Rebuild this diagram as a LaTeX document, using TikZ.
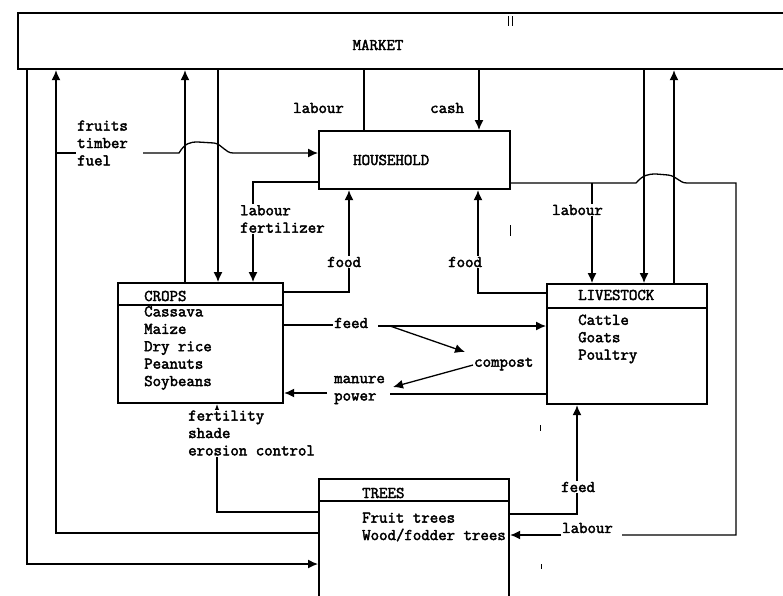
\documentclass[tikz,border=0pt]{standalone}
\usepackage{fontspec}
\newfontfamily\tw{Latin Modern Mono}[FakeBold=2.5]
\usetikzlibrary{arrows.meta}
\begin{document}
\begin{tikzpicture}[x=1pt,y=-1pt,
  box/.style={draw,line width=2.2pt,inner sep=0pt,anchor=north west},
  ln/.style={line width=1.3pt},
  ar/.style={line width=1.3pt,-{Latex[length=10pt,width=9pt]}},
  lbl/.style={font=\tw\fontsize{16.4}{17.4}\selectfont,inner sep=1pt,anchor=west,align=left},
  wl/.style={lbl,fill=white},
  tick/.style={line width=0.8pt}
]
\useasboundingbox (0,0) rectangle (783,595);
\clip (0,0) rectangle (783,595);

% boxes
\node[box,minimum width=780pt,minimum height=56pt] (market) at (17,12) {};
\node[lbl,anchor=center] (marketl) at (378,45) {MARKET};
\node[box,minimum width=191pt,minimum height=58pt] (hh) at (318,130) {};
\node[lbl] (hhl) at (352,160) {HOUSEHOLD};
\node[box,minimum width=165pt,minimum height=120pt] (crops) at (117,282) {};
\draw[line width=2pt] (crops.west |- 0,305) -- (crops.east |- 0,305);
\node[lbl] (cropsl) at (143,296) {CROPS};
\node[lbl] (cropsi) at (143,348) {Cassava\\Maize\\Dry rice\\Peanuts\\Soybeans};
\node[box,minimum width=160pt,minimum height=120pt] (ls) at (546,283) {};
\draw[line width=2pt] (ls.west |- 0,308) -- (ls.east |- 0,308);
\node[lbl] (lsl) at (577,295) {LIVESTOCK};
\node[lbl] (lsi) at (577,339) {Cattle\\Goats\\Poultry};
\node[box,minimum width=190pt,minimum height=140pt] (trees) at (318,478) {};
\draw[line width=2pt] (trees.west |- 0,501) -- (trees.east |- 0,501);
\node[lbl] (treesl) at (361,493) {TREES};
\node[lbl] (treesi) at (361,527) {Fruit trees\\Wood/fodder trees};

% plain labels
\node[lbl] (labm) at (292,108) {labour};
\node[lbl] (cash) at (429,108) {cash};
\node[lbl] (fruits) at (76,143) {fruits\\timber\\fuel};
\node[lbl] (feed) at (333,323) {feed};
\node[lbl] (compost) at (473,364) {compost};
\node[lbl] (manure) at (333,390) {manure\\power};
\node[lbl] (labr) at (561,528) {labour};

% connectors
\draw[ar] (market.south -| 27,0) -- (27,564) -- (trees.west |- 0,564);
\draw[ar] (trees.west |- 0,533) -- (56,533) -- (market.south -| 56,0);
\draw[ln] (56,153) -- (fruits.west |- 0,153);
\draw[ar] (143,153) -- (179,153) .. controls (185,143) and (190,142) .. (198,142) -- (214,143) .. controls (222,144) and (225,153) .. (233,153) -- (hh.west |- 0,153);
\draw[ar] (crops.north -| 185,0) -- (market.south -| 185,0);
\draw[ar] (market.south -| 218,0) -- (crops.north -| 218,0);
\draw[ln] (hh.north -| 364,0) -- (market.south -| 364,0);
\draw[ar] (market.south -| 479,0) -- (hh.north -| 479,0);
\draw[ar] (market.south -| 644,0) -- (ls.north -| 644,0);
\draw[ar] (ls.north -| 674,0) -- (market.south -| 674,0);
\draw[ln] (hh.east |- 0,183) -- (636,183) .. controls (643,175) and (648,174) .. (656,174) -- (668,175) .. controls (677,176) and (679,183) .. (687,183) -- (736,183) -- (736,535) -- (622,535);
\draw[ar] (labr.west |- 0,535) -- (trees.east |- 0,535);
\draw[ar] (592,183) -- (ls.north -| 592,0);
\draw[ar] (hh.west |- 0,182) -- (253,182) -- (crops.north -| 253,0);
\draw[ar] (crops.east |- 0,292) -- (349,292) -- (hh.south -| 349,0);
\draw[ar] (ls.west |- 0,293) -- (478,293) -- (hh.south -| 478,0);
\draw[ar] (trees.west |- 0,512) -- (217,512) -- (crops.south -| 217,0);
\draw[ar] (trees.east |- 0,514) -- (577,514) -- (ls.south -| 577,0);
\draw[ln] (crops.east |- 0,325) -- (feed.west |- 0,325);
\draw[ar] (378,326) -- (ls.west |- 0,326);
\draw[ar] (390,326) -- (465,352);
\draw[ar] (compost.west |- 0,365) -- (393,387);
\draw[ln] (ls.west |- 0,394) -- (390,394);
\draw[ar] (327,393) -- (crops.east |- 0,393);

% labels over lines
\node[wl] (labf) at (239,219) {labour\\fertilizer};
\node[wl] (food1) at (326,262) {food};
\node[wl] (food2) at (447,262) {food};
\node[wl] (labl) at (551,210) {labour};
\node[wl] (fert) at (187,433) {fertility\\shade\\erosion control};
\node[wl] (feed2) at (560,487) {feed};

% scan marks
\draw[tick] (508,16) -- (508,26);
\draw[tick] (512,16) -- (512,26);
\draw[tick] (510,225) -- (510,236);
\draw[tick] (540,425) -- (540,431);
\draw[tick] (541,564) -- (541,569);
\end{tikzpicture}
\end{document}
